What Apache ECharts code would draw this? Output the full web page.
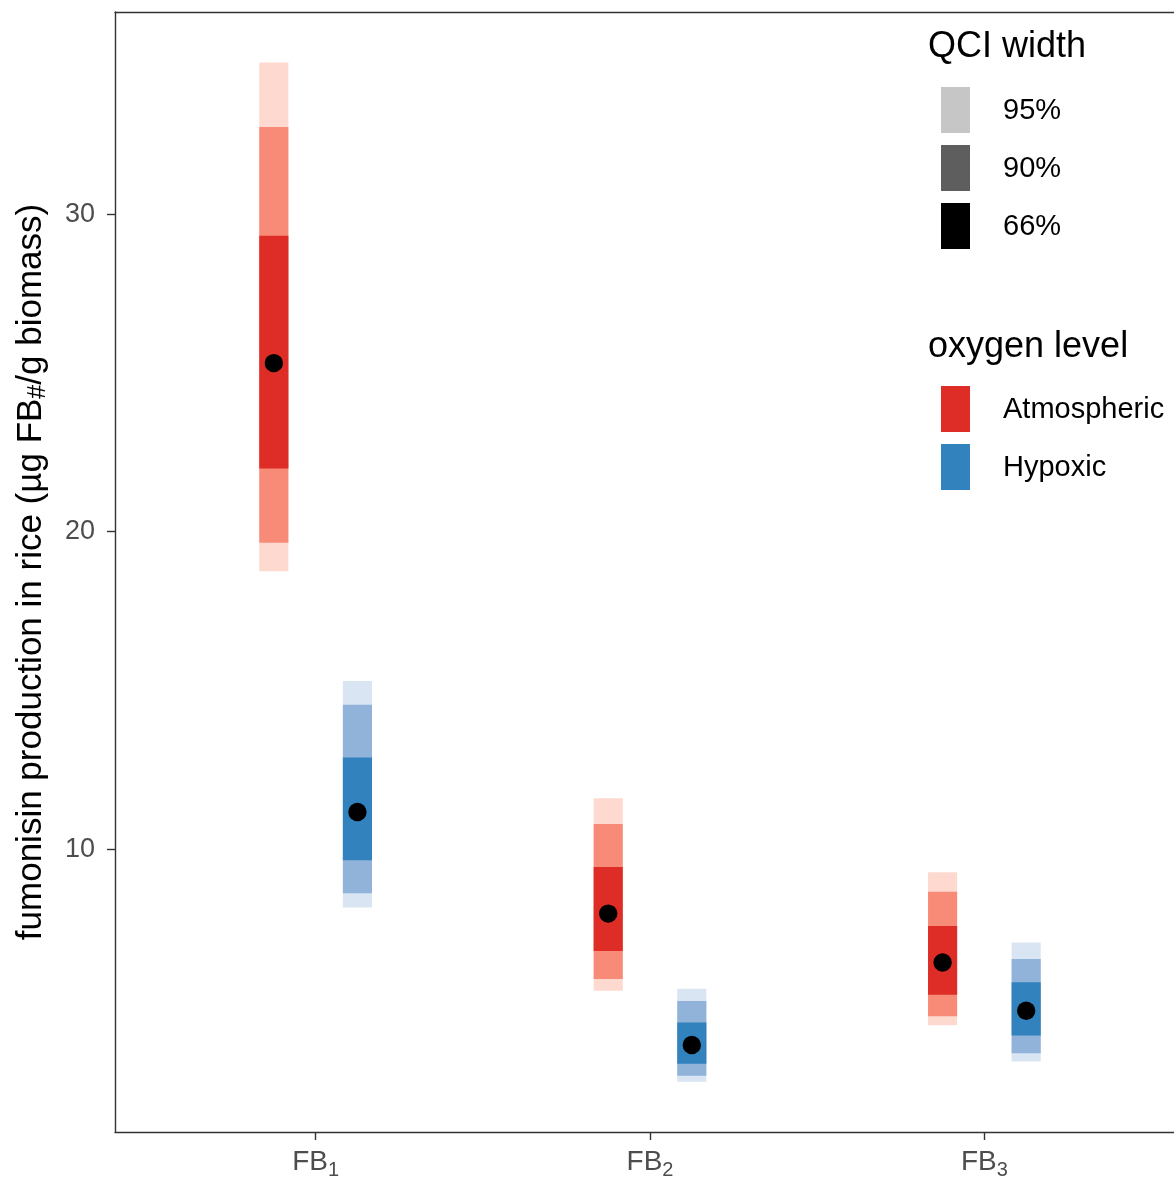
<!DOCTYPE html>
<html>
<head>
<meta charset="utf-8">
<script src="https://cdn.jsdelivr.net/npm/echarts@6/dist/echarts.min.js"></script>
<style>
html,body{margin:0;padding:0;background:#fff;}
#chart{width:1174px;height:1179px;}
</style>
</head>
<body>
<div id="chart"></div>
<script>
// ---- data ----
const categories = ['FB1', 'FB2', 'FB3'];
const categorySubs = ['1', '2', '3'];
const yTicks = [10, 20, 30];

const atmPoint = [25.31, 7.97, 6.43];
const atm66 = [[21.99, 29.32], [6.79, 9.44], [5.41, 7.58]];
const atm90 = [[19.65, 32.75], [5.91, 10.79], [4.74, 8.66]];
const atm95 = [[18.75, 34.78], [5.54, 11.60], [4.45, 9.27]];

const hypPoint = [11.17, 3.83, 4.91];
const hyp66 = [[9.65, 12.89], [3.24, 4.54], [4.13, 5.81]];
const hyp90 = [[8.61, 14.55], [2.86, 5.22], [3.57, 6.54]];
const hyp95 = [[8.16, 15.30], [2.67, 5.60], [3.31, 7.06]];

const widthLevels = ['95%', '90%', '66%'];
const oxygenLevels = ['Atmospheric', 'Hypoxic'];

// ---- styles ----
const FONT = 'Liberation Sans, Arial, Helvetica, sans-serif';
const atmColors = { '95%': '#fed9cf', '90%': '#f78b77', '66%': '#de2d26' };
const hypColors = { '95%': '#d9e5f2', '90%': '#91b2d9', '66%': '#3182bd' };
const widthKeyColors = ['#c6c6c6', '#5e5e5e', '#000000'];
const oxygenKeyColors = ['#de2d26', '#3182bd'];
const dodge = 0.125;
const barW = 0.087;

function intervalSeries(name, arr, offset, color) {
  return {
    name: name,
    type: 'custom',
    xAxisIndex: 0, yAxisIndex: 0,
    data: arr.map((d, i) => [i + 1, d[0], d[1]]),
    renderItem: function (params, api) {
      const x = api.value(0) + offset;
      const top = api.coord([x, api.value(2)]);
      const bot = api.coord([x, api.value(1)]);
      const w = api.size([barW, 0])[0];
      return {
        type: 'rect',
        shape: { x: top[0] - w / 2, y: top[1], width: w, height: bot[1] - top[1] },
        style: { fill: color }
      };
    },
    silent: true
  };
}
function pointSeries(name, arr, offset) {
  return {
    name: name,
    type: 'custom',
    data: arr.map((v, i) => [i + 1, v]),
    renderItem: function (params, api) {
      const p = api.coord([api.value(0) + offset, api.value(1)]);
      return { type: 'circle', shape: { cx: p[0], cy: p[1], r: 9.2 }, style: { fill: '#000' } };
    },
    silent: true, z: 5
  };
}

const series = [
  intervalSeries('Atmospheric 95%', atm95, -dodge, atmColors['95%']),
  intervalSeries('Hypoxic 95%', hyp95, dodge, hypColors['95%']),
  intervalSeries('Atmospheric 90%', atm90, -dodge, atmColors['90%']),
  intervalSeries('Hypoxic 90%', hyp90, dodge, hypColors['90%']),
  intervalSeries('Atmospheric 66%', atm66, -dodge, atmColors['66%']),
  intervalSeries('Hypoxic 66%', hyp66, dodge, hypColors['66%']),
  pointSeries('Atmospheric', atmPoint, -dodge),
  pointSeries('Hypoxic', hypPoint, dodge)
];

// ---- legend (graphic) ----
const graphic = [];
const lgX = 928, keyX = 941, keyW = 29, keyH = 46, labX = 1003;
graphic.push({ type: 'text', x: lgX, y: 47, style: { text: 'QCI width', font: '36px ' + FONT, fill: '#000', verticalAlign: 'middle' } });
widthLevels.forEach((lv, i) => {
  const cy = 110 + i * 58;
  graphic.push({ type: 'rect', shape: { x: keyX, y: cy - keyH / 2, width: keyW, height: keyH }, style: { fill: widthKeyColors[i] } });
  graphic.push({ type: 'text', x: labX, y: cy + 1, style: { text: lv, font: '29px ' + FONT, fill: '#000', verticalAlign: 'middle' } });
});
graphic.push({ type: 'text', x: lgX, y: 347, style: { text: 'oxygen level', font: '36px ' + FONT, fill: '#000', verticalAlign: 'middle' } });
oxygenLevels.forEach((lv, i) => {
  const cy = 409 + i * 58;
  graphic.push({ type: 'rect', shape: { x: keyX, y: cy - keyH / 2, width: keyW, height: keyH }, style: { fill: oxygenKeyColors[i] } });
  graphic.push({ type: 'text', x: labX, y: cy + 1, style: { text: lv, font: '29px ' + FONT, fill: '#000', verticalAlign: 'middle' } });
});

const axisLineStyle = { color: '#333333', width: 1.4 };

const option = {
  backgroundColor: '#ffffff',
  animation: false,
  grid: { left: 115, top: 12, width: 1070, height: 1120, containLabel: false, outerBoundsMode: 'none' },
  xAxis: [{
    type: 'value', min: 0.4, max: 3.6,
    axisLine: { show: true, onZero: false, lineStyle: axisLineStyle },
    axisTick: { show: true, customValues: [1, 2, 3], length: 8, lineStyle: axisLineStyle },
    axisLabel: {
      show: true, customValues: [1, 2, 3], margin: 14,
      formatter: function (v) {
        const i = Math.round(v) - 1;
        return '{a|' + categories[i].replace(/\d+$/, '') + '}{s|' + categorySubs[i] + '}';
      },
      rich: {
        a: { fontSize: 28, fontFamily: FONT, color: '#4d4d4d', lineHeight: 32 },
        s: { fontSize: 20, fontFamily: FONT, color: '#4d4d4d', lineHeight: 32, padding: [16, 0, 0, 0] }
      }
    },
    splitLine: { show: false }
  }, {
    type: 'value', min: 0.4, max: 3.6, position: 'top',
    axisLine: { show: true, onZero: false, lineStyle: axisLineStyle },
    axisTick: { show: false }, axisLabel: { show: false }, splitLine: { show: false }
  }],
  yAxis: [{
    type: 'value', min: 1.09, max: 36.37,
    axisLine: { show: true, onZero: false, lineStyle: axisLineStyle },
    axisTick: { show: true, customValues: yTicks, length: 8, lineStyle: axisLineStyle },
    axisLabel: { show: true, customValues: yTicks, margin: 20, fontSize: 27, fontFamily: FONT, color: '#4d4d4d' },
    splitLine: { show: false },
    name: '{a|fumonisin production in rice (µg FB}{s|#}{a|/g biomass)}',
    nameLocation: 'middle', nameRotate: 90, nameGap: 63,
    nameTextStyle: {
      rich: {
        a: { fontSize: 35, fontFamily: FONT, color: '#000', lineHeight: 42 },
        s: { fontSize: 25, fontFamily: FONT, color: '#000', lineHeight: 42, padding: [14, 0, 0, 0] }
      }
    }
  }, {
    type: 'value', min: 1.09, max: 36.37, position: 'right',
    axisLine: { show: true, onZero: false, lineStyle: axisLineStyle },
    axisTick: { show: false }, axisLabel: { show: false }, splitLine: { show: false }
  }],
  graphic: graphic,
  series: series
};

const chart = echarts.init(document.getElementById('chart'), null, { renderer: 'canvas' });
chart.setOption(option);
</script>
</body>
</html>
